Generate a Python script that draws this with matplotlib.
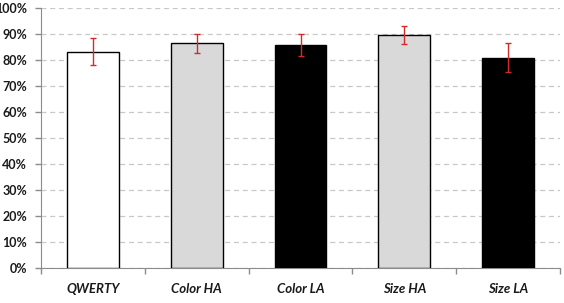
import numpy as np
import matplotlib
matplotlib.use('Agg')
import matplotlib.pyplot as plt
from matplotlib.ticker import PercentFormatter, FixedLocator

categories = ['QWERTY', 'Color HA', 'Color LA', 'Size HA', 'Size LA']
accuracy = [83.2, 86.4, 85.8, 89.6, 80.9]
errors = [5.3, 3.6, 4.2, 3.4, 5.5]
fills = ['white', '#d9d9d9', 'black', '#d9d9d9', 'black']

plt.rcParams['font.family'] = ['Lato', 'DejaVu Sans']

fig = plt.figure(figsize=(5.64, 3.03), dpi=100)
ax = fig.add_axes([41/564, 1 - 268/303, 519/564, 260/303])

x = np.arange(len(categories))
ax.bar(x, accuracy, width=0.5, color=fills, edgecolor='black', linewidth=1.0, zorder=3)
ax.errorbar(x, accuracy, yerr=errors, fmt='none', ecolor='#d42a2a',
            elinewidth=1.0, capsize=2.5, capthick=1.0, zorder=4)

# Axes and grid
ax.set_xlim(-0.5, len(categories) - 0.5)
ax.set_ylim(0, 100)
ax.set_yticks(np.arange(0, 101, 10))
ax.yaxis.set_major_formatter(PercentFormatter(decimals=0))
ax.grid(axis='y', color='#c8c8c8', linestyle=(0, (4, 3)), linewidth=0.9, zorder=0)

for side in ['top', 'right']:
    ax.spines[side].set_visible(False)
ax.spines['left'].set_color('#8c8c8c')
ax.spines['bottom'].set_color('#8c8c8c')

ax.set_xticks(x)
ax.set_xticklabels(categories, fontsize=9.5, fontweight='bold', fontstyle='italic',
                   color='#1a1a1a')
ax.tick_params(axis='x', length=0, pad=11)
ax.xaxis.set_minor_locator(FixedLocator(np.arange(-0.5, len(categories), 1)))
ax.tick_params(axis='x', which='minor', length=4, color='#8c8c8c', width=1)

ax.tick_params(axis='y', length=4, color='#8c8c8c', width=1, pad=6,
               labelsize=9, labelcolor='#1a1a1a')
for lbl in ax.get_yticklabels():
    lbl.set_fontweight('bold')

plt.savefig('out.png', dpi=100)
